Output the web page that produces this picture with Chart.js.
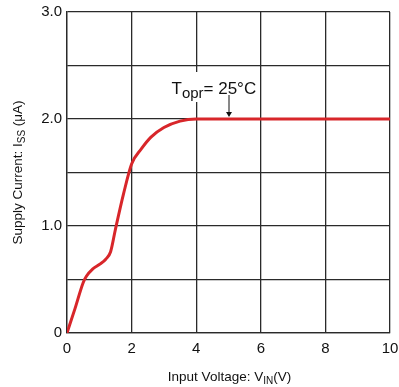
<!DOCTYPE html>
<html><head><meta charset="utf-8">
<script src="https://cdn.jsdelivr.net/npm/chart.js@4"></script>
<style>html,body{margin:0;padding:0;background:#fff}#wrap{width:399px;height:387px;position:relative}</style>
</head><body><div id="wrap"><canvas id="c" width="399" height="387"></canvas></div>
<script>
const inputVoltage = [0, 0.25, 0.5, 0.6, 0.8, 1.0, 1.2, 1.35, 1.5, 1.75, 2.0, 2.3, 2.6, 3.0, 3.5, 4.0, 5.0, 6.0, 8.0, 10.0];
const supplyCurrent = [0, 0.23, 0.47, 0.53, 0.6, 0.64, 0.69, 0.76, 0.97, 1.3, 1.58, 1.72, 1.83, 1.92, 1.98, 2.0, 2.0, 2.0, 2.0, 2.0];
const xTicks = [0, 2, 4, 6, 8, 10];
const yTickLabels = {0: '0', 1: '1.0', 2: '2.0', 3: '3.0'};
const annotation = {x: 5.0, y: 2.0, main: 'T', sub: 'opr', rest: '= 25°C'};

const FONT = '"Liberation Sans", Arial, sans-serif';
const GRID = '#2a2a2a';

function richText(ctx, parts, x, y) {
  let cx = x;
  for (const p of parts) {
    ctx.font = p.size + 'px ' + FONT;
    ctx.fillText(p.t, cx, y + (p.dy || 0));
    cx += ctx.measureText(p.t).width;
  }
}
function richWidth(ctx, parts) {
  let w = 0;
  for (const p of parts) { ctx.font = p.size + 'px ' + FONT; w += ctx.measureText(p.t).width; }
  return w;
}

const overlay = {
  id: 'overlay',
  afterDraw(chart) {
    const ctx = chart.ctx, xs = chart.scales.x, ys = chart.scales.y, a = chart.chartArea;
    ctx.save();
    ctx.textBaseline = 'alphabetic';
    ctx.textAlign = 'left';
    // annotation
    const px = xs.getPixelForValue(annotation.x), py = ys.getPixelForValue(annotation.y);
    const ann = [{t: annotation.main, size: 17}, {t: annotation.sub, size: 15, dy: 4}, {t: annotation.rest, size: 17}];
    const tx = px - 57, ty = py - 25;
    const w = richWidth(ctx, ann);
    ctx.fillStyle = '#fff';
    ctx.fillRect(tx - 1, ty - 22, w + 3, 30);
    ctx.fillStyle = '#111';
    richText(ctx, ann, tx, ty);
    // arrow
    ctx.strokeStyle = '#111'; ctx.lineWidth = 1;
    ctx.beginPath(); ctx.moveTo(px + 0.5, ty + 1); ctx.lineTo(px + 0.5, py - 5); ctx.stroke();
    ctx.beginPath(); ctx.moveTo(px - 2.5, py - 7); ctx.lineTo(px + 3.5, py - 7); ctx.lineTo(px + 0.5, py - 2); ctx.closePath(); ctx.fill();
    // x title
    const xt = [{t: 'Input Voltage: V', size: 13.5}, {t: 'IN', size: 10, dy: 3}, {t: '(V)', size: 13.5}];
    const xw = richWidth(ctx, xt);
    richText(ctx, xt, (a.left + a.right) / 2 + 1 - xw / 2, 381);
    // y title
    const yt = [{t: 'Supply Current: I', size: 13.5}, {t: 'SS', size: 10, dy: 3}, {t: ' (μA)', size: 13.5}];
    const yw = richWidth(ctx, yt);
    ctx.translate(22, (a.top + a.bottom) / 2);
    ctx.rotate(-Math.PI / 2);
    richText(ctx, yt, -yw / 2, 0);
    ctx.restore();
  }
};

new Chart(document.getElementById('c'), {
  type: 'line',
  data: {
    datasets: [{
      data: inputVoltage.map((v, i) => ({x: v, y: supplyCurrent[i]})),
      borderColor: '#d8262a',
      borderWidth: 3,
      pointRadius: 0,
      cubicInterpolationMode: 'monotone',
      fill: false
    }]
  },
  options: {
    responsive: false,
    animation: false,
    devicePixelRatio: 1,
    layout: {padding: {left: 0, top: 12, right: 9, bottom: 0}},
    plugins: {legend: {display: false}, tooltip: {enabled: false}},
    scales: {
      x: {
        type: 'linear', min: 0, max: 10,
        afterBuildTicks: s => { s.ticks = xTicks.map(v => ({value: v})); },
        afterFit: s => { s.height = 54; s.paddingLeft = 0; s.paddingRight = 0; },
        grid: {color: GRID, lineWidth: 1.3, drawTicks: false},
        border: {color: GRID, width: 1.3},
        ticks: {color: '#111', padding: 7, font: {family: FONT, size: 15}, maxRotation: 0, callback: v => String(v)}
      },
      y: {
        min: 0, max: 3,
        afterBuildTicks: s => { s.ticks = [0, 0.5, 1, 1.5, 2, 2.5, 3].map(v => ({value: v})); },
        afterFit: s => { s.width = 67; s.paddingTop = 0; s.paddingBottom = 0; },
        grid: {color: GRID, lineWidth: 1.3, drawTicks: false},
        border: {color: GRID, width: 1.3},
        ticks: {color: '#111', padding: 5, font: {family: FONT, size: 15}, callback: v => (yTickLabels[v] !== undefined ? yTickLabels[v] : '')}
      }
    }
  },
  plugins: [overlay]
});
</script></body></html>
